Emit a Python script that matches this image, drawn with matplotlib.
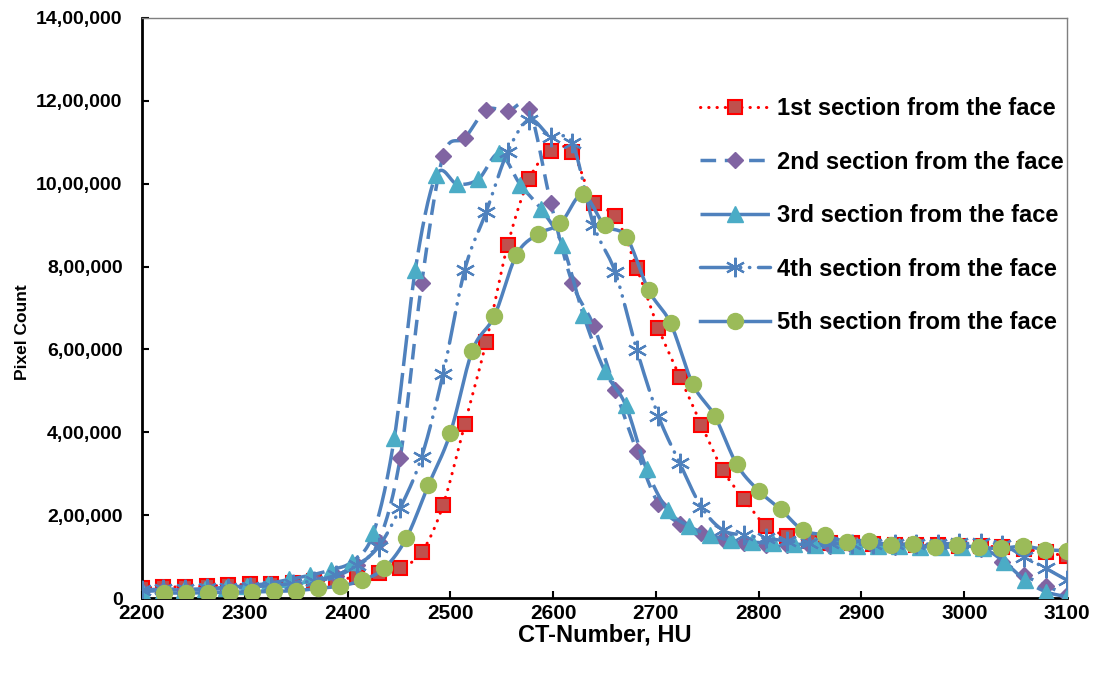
import numpy as np
import matplotlib
matplotlib.use("Agg")
from matplotlib import pyplot as plt

# x grids (CT-number, HU) used by the sections
x_a = [2200, 2220.9, 2241.9, 2262.8, 2283.7, 2304.7, 2325.6, 2346.5, 2367.4, 2388.4,
       2409.3, 2430.2, 2451.2, 2472.1, 2493.0, 2514.0, 2534.9, 2555.8, 2576.7, 2597.7,
       2618.6, 2639.5, 2660.5, 2681.4, 2702.3, 2723.3, 2744.2, 2765.1, 2786.0, 2807.0,
       2827.9, 2848.8, 2869.8, 2890.7, 2911.6, 2932.6, 2953.5, 2974.4, 2995.3, 3016.3,
       3037.2, 3058.1, 3079.1, 3100]
x_b = [2200, 2220.5, 2240.9, 2261.4, 2281.8, 2302.3, 2322.7, 2343.2, 2363.6, 2384.1,
       2404.5, 2425.0, 2445.5, 2465.9, 2486.4, 2506.8, 2527.3, 2547.7, 2568.2, 2588.6,
       2609.1, 2629.5, 2650.0, 2670.5, 2690.9, 2711.4, 2731.8, 2752.3, 2772.7, 2793.2,
       2813.6, 2834.1, 2854.5, 2875.0, 2895.5, 2915.9, 2936.4, 2956.8, 2977.3, 2997.7,
       3018.2, 3038.6, 3059.1, 3079.5, 3100]
x_c = [2221.4, 2242.9, 2264.3, 2285.7, 2307.1, 2328.6, 2350.0, 2371.4, 2392.9, 2414.3,
       2435.7, 2457.1, 2478.6, 2500.0, 2521.4, 2542.9, 2564.3, 2585.7, 2607.1, 2628.6,
       2650.0, 2671.4, 2692.9, 2714.3, 2735.7, 2757.1, 2778.6, 2800.0, 2821.4, 2842.9,
       2864.3, 2885.7, 2907.1, 2928.6, 2950.0, 2971.4, 2992.9, 3014.3, 3035.7, 3057.1,
       3078.6, 3100.0]

# pixel counts (thousands)
sec1 = [25, 26, 27, 29, 31, 33, 35, 37, 40, 44,
        51, 60, 73, 110, 225, 420, 618, 852, 1011, 1079,
        1077, 953, 922, 797, 652, 534, 418, 309, 238, 174,
        150, 138, 134, 132, 130, 129, 128, 127, 126, 125,
        123, 118, 110, 101]
sec2 = [18, 19, 20, 21, 23, 25, 28, 33, 40, 52,
        80, 136, 338, 760, 1067, 1110, 1178, 1175, 1180, 954,
        761, 657, 502, 355, 228, 179, 156, 142, 132, 129,
        128, 127, 126, 125, 125, 124, 124, 123, 122, 118,
        88, 55, 30, 8]
sec3 = [16, 18, 20, 22, 25, 30, 35, 45, 55, 68,
        88, 156, 386, 792, 1021, 999, 1011, 1073, 997, 938,
        852, 683, 549, 466, 311, 212, 174, 152, 140, 135,
        132, 130, 128, 127, 126, 125, 125, 124, 123, 122,
        120, 88, 43, 15, 3]
sec4 = [20, 21, 22, 23, 25, 27, 30, 35, 42, 55,
        80, 124, 217, 341, 541, 792, 932, 1077, 1154, 1113,
        1098, 900, 786, 599, 440, 325, 220, 164, 152, 144,
        138, 134, 132, 130, 130, 130, 130, 131, 132, 132,
        128, 100, 72, 43]
sec5 = [12, 12, 13, 14, 15, 16, 18, 23, 29, 43,
        72, 144, 272, 398, 597, 681, 828, 879, 904, 974,
        900, 871, 743, 663, 517, 440, 323, 259, 214, 164,
        152, 136, 138, 128, 130, 122, 128, 122, 120, 125,
        117, 114]

labels = ["1st section from the face", "2nd section from the face",
          "3rd section from the face", "4th section from the face",
          "5th section from the face"]
xticks = [2200, 2300, 2400, 2500, 2600, 2700, 2800, 2900, 3000, 3100]
yticks = [0, 200000, 400000, 600000, 800000, 1000000, 1200000, 1400000]
ytick_labels = ["0", "2,00,000", "4,00,000", "6,00,000", "8,00,000",
                "10,00,000", "12,00,000", "14,00,000"]


def smooth(x, y, n=16):
    # Excel-like smoothed line (Catmull-Rom as cubic Bezier)
    p = np.column_stack([x, y]).astype(float)
    p = np.vstack([p[0], p, p[-1]])
    t = np.linspace(0, 1, n)[:, None]
    out = []
    for i in range(1, len(p) - 2):
        p0, p1, p2, p3 = p[i - 1], p[i], p[i + 1], p[i + 2]
        c1 = p1 + (p2 - p0) / 6
        c2 = p2 - (p3 - p1) / 6
        seg = ((1 - t) ** 3) * p1 + 3 * ((1 - t) ** 2) * t * c1 + 3 * (1 - t) * t ** 2 * c2 + t ** 3 * p2
        out.append(seg)
    out = np.vstack(out)
    return out[:, 0], out[:, 1]


plt.rcParams['font.family'] = ['Liberation Sans', 'DejaVu Sans']
plt.rcParams['font.weight'] = 'bold'

fig = plt.figure(figsize=(10.98, 6.73), dpi=100)
ax = fig.add_axes([0.1293, 0.1114, 0.8425, 0.8619])

blue = '#4F81BD'
series = [
    (x_a, sec1, dict(color='red', lw=2.2, ls=(0, (0.1, 2.6)), dash_capstyle='round'),
     dict(marker='s', ms=10.5, mfc='#C0504D', mec='red', mew=1.5)),
    (x_a, sec2, dict(color=blue, lw=2.5, ls=(0, (4.5, 2.5))),
     dict(marker='D', ms=8.5, mfc='#8064A2', mec='#8064A2', mew=1)),
    (x_b, sec3, dict(color=blue, lw=2.5, ls=(0, (9, 2))),
     dict(marker='^', ms=11, mfc='#4BACC6', mec='#4BACC6', mew=1)),
    (x_a, sec4, dict(color=blue, lw=2.5, ls=(0, (9, 2.5, 0.1, 2.5, 0.1, 2.5)), dash_capstyle='round'),
     dict(marker=(6, 2, 0), ms=14, mfc='none', mec=blue, mew=1.6)),
    (x_c, sec5, dict(color=blue, lw=2.5, ls='-'),
     dict(marker='o', ms=11.5, mfc='#9BBB59', mec='#9BBB59', mew=1)),
]

handles = []
for i, (xs, ys, lst, mst) in enumerate(series):
    yv = np.array(ys) * 1000
    sx, sy = smooth(xs, yv)
    ax.plot(sx, sy, zorder=2 + i, **lst)
    ax.plot(xs, yv, ls='none', zorder=2 + i, **mst)
    h, = ax.plot([], [], **lst, **mst)
    handles.append(h)

ax.set_xlim(2200, 3100)
ax.set_ylim(0, 1400000)
ax.set_xticks(xticks)
ax.set_yticks(yticks)
ax.set_yticklabels(ytick_labels)
ax.tick_params(direction='in', length=5, width=1.5)
ax.tick_params(axis='x', labelsize=15, pad=4.5)
ax.tick_params(axis='y', labelsize=14, pad=14)
for lab in ax.get_xticklabels() + ax.get_yticklabels():
    lab.set_fontweight('bold')

for s in ['left', 'bottom']:
    ax.spines[s].set_linewidth(2)
    ax.spines[s].set_color('black')
for s in ['top', 'right']:
    ax.spines[s].set_linewidth(1)
    ax.spines[s].set_color('#7f7f7f')

ax.set_xlabel("CT-Number, HU", fontsize=17, fontweight='bold', labelpad=0)
ax.set_ylabel("Pixel Count", fontsize=12.5, fontweight='bold')
ax.yaxis.set_label_coords(-0.121, 0.459)

ax.legend(handles, labels, loc='upper left', bbox_to_anchor=(0.580, 0.90),
          frameon=False, handlelength=2.97, labelspacing=1.29,
          handletextpad=0.3, prop={'weight': 'bold', 'size': 17})

fig.savefig("out.png", dpi=100)
